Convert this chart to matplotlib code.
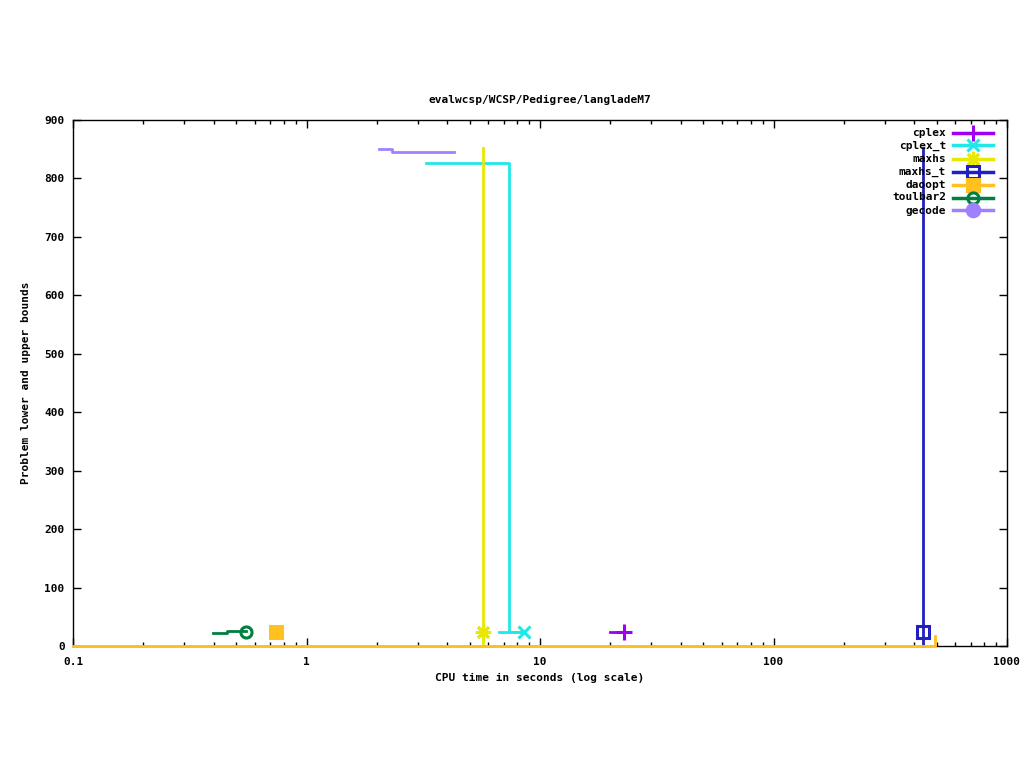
import numpy as np
import matplotlib
matplotlib.use("Agg")
import matplotlib.pyplot as plt
from matplotlib.ticker import LogLocator, FixedLocator, NullFormatter

# --- data (CPU seconds, bound value) ---
cplex_x = [19.9, 23.0]
cplex_y = [24, 24]
cplex_end = (23.0, 24)

cplex_t_x = [3.25, 7.36, 7.36, 8.54]
cplex_t_y = [826, 826, 24, 24]
cplex_t_lo_x = [6.67, 8.54]
cplex_t_lo_y = [24, 24]
cplex_t_end = (8.54, 24)

maxhs_x = [5.70, 5.70]
maxhs_y = [852, 0]
maxhs_end = (5.70, 24)

maxhs_t_x = [436, 436]
maxhs_t_y = [852, 0]
maxhs_t_end = (436, 24)

daoopt_x = [0.1, 492, 492]
daoopt_y = [0, 0, 17]
daoopt_end = (0.74, 24)

toulbar2_x = [0.398, 0.456, 0.456, 0.551]
toulbar2_y = [23, 23, 25, 25]
toulbar2_end = (0.551, 24)

gecode_x = [2.04, 2.32, 2.32, 4.28]
gecode_y = [850, 850, 846, 846]

xticks = [0.1, 1, 10, 100, 1000]
xticklabels = ["0.1", "1", "10", "100", "1000"]
yticks = list(range(0, 1000, 100))

# name, colour, marker, marker face, marker size
styles = [
    ("cplex", "#a000f0", "+", "#a000f0", 11),
    ("cplex_t", "#20e8e8", "x", "#20e8e8", 9),
    ("maxhs", "#e8e800", (8, 2, 0), "#e8e800", 11),
    ("maxhs_t", "#2020c0", "s", "none", 8),
    ("daoopt", "#ffc020", "s", "#ffc020", 9),
    ("toulbar2", "#008040", "o", "none", 8),
    ("gecode", "#a080ff", "o", "#a080ff", 9),
]
series = {
    "cplex": [(cplex_x, cplex_y)],
    "cplex_t": [(cplex_t_x, cplex_t_y), (cplex_t_lo_x, cplex_t_lo_y)],
    "maxhs": [(maxhs_x, maxhs_y)],
    "maxhs_t": [(maxhs_t_x, maxhs_t_y)],
    "daoopt": [(daoopt_x, daoopt_y)],
    "toulbar2": [(toulbar2_x, toulbar2_y)],
    "gecode": [(gecode_x, gecode_y)],
}
ends = {"cplex": cplex_end, "cplex_t": cplex_t_end, "maxhs": maxhs_end,
        "maxhs_t": maxhs_t_end, "daoopt": daoopt_end, "toulbar2": toulbar2_end}

plt.rcParams["font.family"] = "DejaVu Sans Mono"
plt.rcParams["font.size"] = 8
plt.rcParams["font.weight"] = "bold"

fig = plt.figure(figsize=(10.24, 7.68), dpi=100)
ax = fig.add_axes([73 / 1024, 1 - 646 / 768, 934 / 1024, 526 / 768])

lw = 2.0
for name, col, mk, mfc, ms in styles:
    for xs, ys in series[name]:
        ax.plot(xs, ys, "-", color=col, lw=lw, zorder=3, clip_on=False)
    if name in ends:
        ex, ey = ends[name]
        ax.plot([ex], [ey], linestyle="none", marker=mk, color=col, mfc=mfc,
                mec=col, mew=2.2, ms=ms, zorder=4)

ax.set_xscale("log")
ax.set_xlim(0.1, 1000)
ax.set_ylim(0, 900)
ax.xaxis.set_major_locator(FixedLocator(xticks))
ax.set_xticklabels(xticklabels)
ax.xaxis.set_minor_locator(LogLocator(base=10, subs=np.arange(2, 10)))
ax.xaxis.set_minor_formatter(NullFormatter())
ax.set_yticks(yticks)
ax.tick_params(which="both", direction="in", top=True, right=True,
               labelsize=8)
ax.tick_params(axis="x", pad=8)
ax.tick_params(axis="y", pad=6)
ax.tick_params(which="major", length=6, width=1)
ax.tick_params(which="minor", length=3, width=1)
for s in ax.spines.values():
    s.set_linewidth(1)

ax.set_title("evalwcsp/WCSP/Pedigree/langladeM7", fontsize=8,
             fontweight="bold", pad=12)
ax.set_xlabel("CPU time in seconds (log scale)", fontsize=8,
              fontweight="bold", labelpad=4)
ax.set_ylabel("Problem lower and upper bounds", fontsize=8,
              fontweight="bold", labelpad=10)

# gnuplot-style key in the top-right corner
for i, (name, col, mk, mfc, ms) in enumerate(styles):
    yk = 1 - (12.5 + 13 * i) / 526
    ax.text((946 - 73) / 934, yk, name, transform=ax.transAxes,
            ha="right", va="center", fontsize=8, fontweight="bold")
    ax.plot([(953 - 73) / 934, (993 - 73) / 934], [yk, yk], "-",
            color=col, lw=2.5, transform=ax.transAxes, clip_on=False, zorder=5)
    ax.plot([(973 - 73) / 934], [yk], linestyle="none", marker=mk, color=col,
            mfc=mfc, mec=col, mew=2.2, ms=ms, transform=ax.transAxes,
            clip_on=False, zorder=6)

fig.savefig("out.png", dpi=100)
